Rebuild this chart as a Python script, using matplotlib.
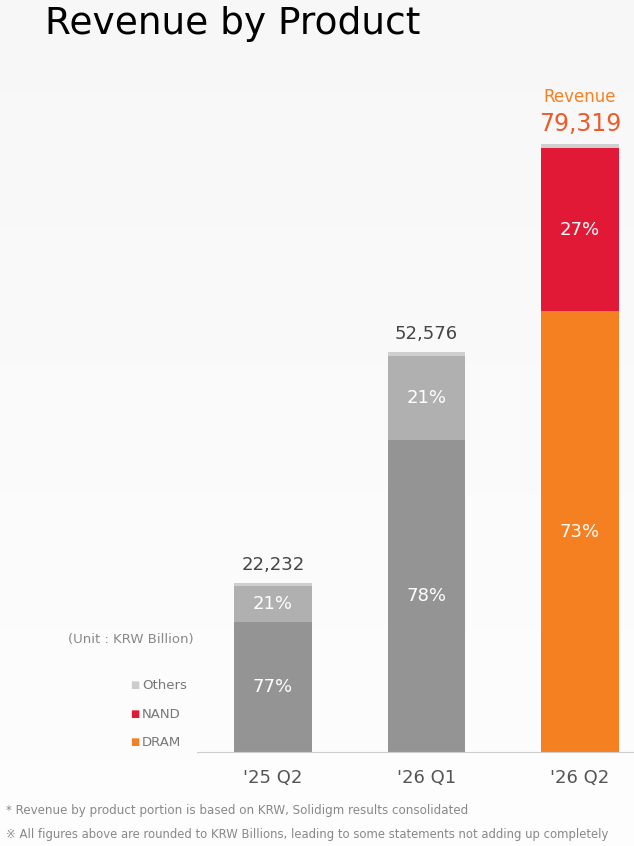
import matplotlib
matplotlib.use("Agg")
import matplotlib.pyplot as plt
import numpy as np

periods = ["'25 Q2", "'26 Q1", "'26 Q2"]
totals = [22232, 52576, 79319]
dram_pct = [77, 78, 73]
nand_pct = [21, 21, 27]
others_pct = [2, 1, 0.6]
dram_labels = ["77%", "78%", "73%"]
nand_labels = ["21%", "21%", "27%"]
total_labels = ["22,232", "52,576", "79,319"]

W, H = 634, 846
fig = plt.figure(figsize=(W/100, H/100), dpi=100)
fig.patch.set_facecolor("white")
bg = fig.add_axes([0, 0, 1, 1], zorder=-1)
g = np.linspace(0, 1, 200)
img = np.outer(1 - g, np.ones(10))
bg.imshow(img, cmap="Greys", vmin=-0.3, vmax=20, aspect="auto", extent=[0, 1, 0, 1])
bg.set_axis_off()

x0, x1 = 197, 634
ytop, ybase = 100, 752
ax = fig.add_axes([x0/W, 1-ybase/H, (x1-x0)/W, (ybase-ytop)/H])
ax.patch.set_alpha(0)
pxu = (752-148)/79319
ax.set_xlim((x0-273)/153.5, (x1-273)/153.5)
ax.set_ylim(0, (ybase-ytop)/pxu)
for s in ax.spines.values():
    s.set_visible(False)
ax.spines["bottom"].set_visible(True)
ax.spines["bottom"].set_color("#cccccc")
ax.set_yticks([])
ax.set_xticks(range(3))
ax.set_xticklabels(periods, fontsize=13, color="#555555")
ax.tick_params(axis="x", length=0, pad=12)

bw = 0.508
xs = np.arange(3)
dark = ["#949494", "#949494", "#f58022"]
mid = ["#b0b0b0", "#b0b0b0", "#e11937"]
for i in range(3):
    t = totals[i]
    d = t*dram_pct[i]/100
    n = t*nand_pct[i]/100
    o = t*others_pct[i]/100
    ax.bar(xs[i], d, bw, color=dark[i])
    ax.bar(xs[i], n, bw, bottom=d, color=mid[i])
    ax.bar(xs[i], o, bw, bottom=d+n, color="#cfcfcf")
    ax.text(xs[i], d/2, dram_labels[i], ha="center", va="center", color="white", fontsize=13)
    ax.text(xs[i], d+n/2, nand_labels[i], ha="center", va="center", color="white", fontsize=13)
    if i < 2:
        ax.text(xs[i], d+n+o+1200, total_labels[i], ha="center", va="bottom", color="#444444", fontsize=13)
ax.text(xs[2], totals[2]+1600, total_labels[2], ha="center", va="bottom", color="#f05a28", fontsize=17)
ax.text(xs[2], totals[2]+5500, "Revenue", ha="center", va="bottom", color="#f58022", fontsize=12)

fig.text(45/W, 1-24/H, "Revenue by Product", fontsize=27, color="black", va="center", ha="left")
fig.text(68/W, 1-640/H, "(Unit : KRW Billion)", fontsize=9.5, color="#888888", va="center")
leg = [("Others", "#cccccc", 685), ("NAND", "#e11937", 714), ("DRAM", "#f58022", 742)]
for name, c, y in leg:
    fig.text(130/W, 1-y/H, "■", fontsize=7, color=c, va="center")
    fig.text(142/W, 1-y/H, name, fontsize=9.5, color="#777777", va="center")
fig.text(6/W, 1-810/H, "* Revenue by product portion is based on KRW, Solidigm results consolidated",
         fontsize=8.6, color="#888888", va="center")
fig.text(6/W, 1-834/H, "※ All figures above are rounded to KRW Billions, leading to some statements not adding up completely",
         fontsize=8.4, color="#888888", va="center")
fig.savefig("out.png", dpi=100)
